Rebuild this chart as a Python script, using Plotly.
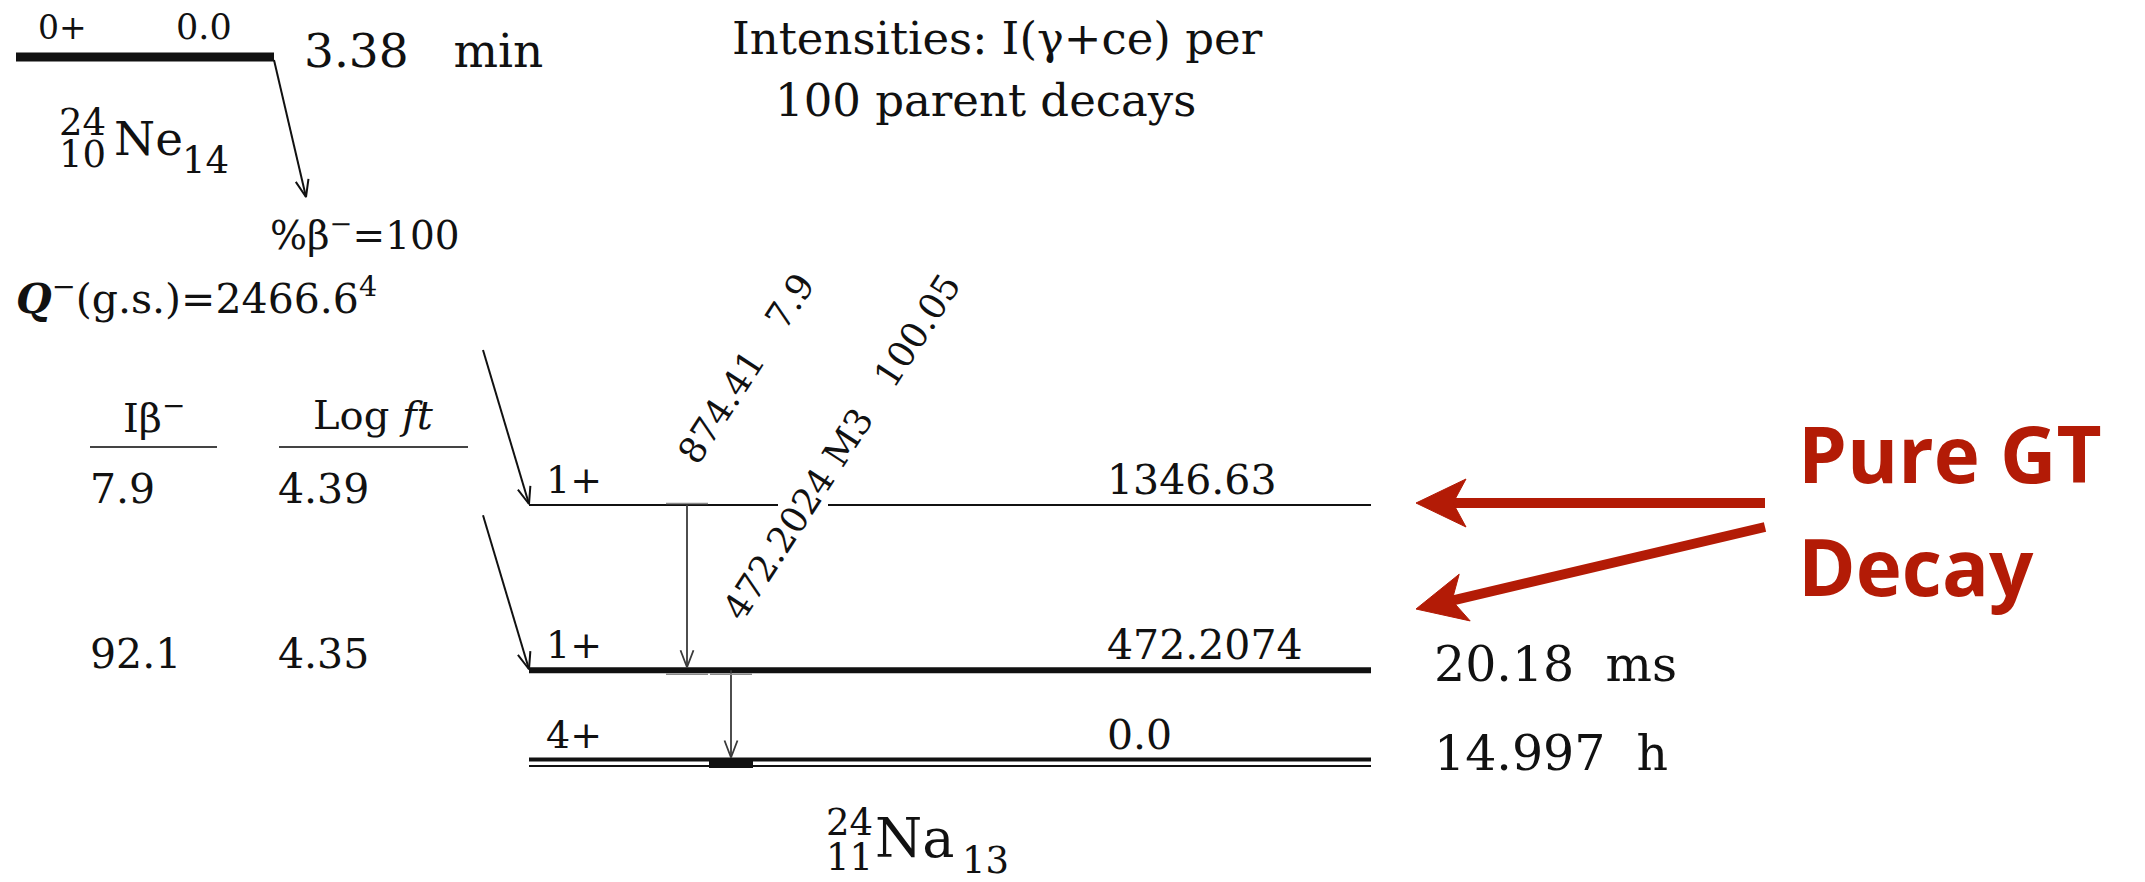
import math
import plotly.graph_objects as go

W, H = 2145, 882
SERIF = "DejaVu Serif"
INK = "#111111"
RED = "#B31B06"

# ---- parent nucleus: 24Ne ----
parent_symbol = "Ne"
parent_a, parent_z, parent_n = "24", "10", "14"
parent_jpi = "0+"
parent_level = "0.0"
parent_halflife = "3.38\u00a0\u00a0\u00a0min"
beta_branch = "100"
q_value = "2466.6"
q_unc = "4"

# ---- daughter nucleus: 24Na ----
daughter_symbol = "Na"
daughter_a, daughter_z, daughter_n = "24", "11", "13"

# ---- daughter levels (keV) ----
level_energy = [1346.63, 472.2074, 0.0]
level_text = ["1346.63", "472.2074", "0.0"]
level_jpi = ["1+", "1+", "4+"]
level_halflife = ["", "20.18\u00a0\u00a0ms", "14.997\u00a0\u00a0h"]

# ---- beta feeding ----
feed_level = [1346.63, 472.2074]
feed_ibeta = ["7.9", "92.1"]
feed_logft = ["4.39", "4.35"]

# ---- gamma transitions ----
gamma_label = ["874.41", "472.2024"]
gamma_mult = ["", "M3"]
gamma_intensity = ["7.9", "100.05"]
gamma_from = [1346.63, 472.2074]
gamma_to = [472.2074, 0.0]

# ---- drawing geometry ----
GROUND_PX = 759.5          # screen row of the 0 keV level
PX_PER_KEV = 0.189         # vertical energy scale
LEVEL_X0, LEVEL_X1 = 529, 1371
GAMMA_X = [687, 731]
LEVEL_WIDTH = {1346.63: 2, 472.2074: 6, 0.0: 4}
# where the slanted 472.2024 label cuts through the 1346.63 level
LEVEL_GAP = {1346.63: (778, 828)}


def to_e(py):
    return (GROUND_PX - py) / PX_PER_KEV


def to_px(e):
    return GROUND_PX - e * PX_PER_KEV


fig = go.Figure()


def seg(xs, es, color=INK, width=2):
    fig.add_trace(go.Scatter(x=xs, y=es, mode="lines", hoverinfo="skip",
                             line=dict(color=color, width=width)))


def arrow(x0, p0, x1, p1, color=INK, width=2, head=17, half=6.5):
    """Line with an open chevron head; p0/p1 are screen rows."""
    dx, dy = x1 - x0, p1 - p0
    L = math.hypot(dx, dy)
    ux, uy = dx / L, dy / L
    bx, by = x1 - head * ux, p1 - head * uy
    nx, ny = -uy, ux
    seg([x0, x1], [to_e(p0), to_e(p1)], color, width)
    seg([bx + half * nx, x1, bx - half * nx],
        [to_e(by + half * ny), to_e(p1), to_e(by - half * ny)], color, width)


def bold_arrow(x0, p0, x1, p1, color, width=10, head=50, half=24, notch=13):
    """Thick pointer with a barbed, filled head; p0/p1 are screen rows."""
    dx, dy = x1 - x0, p1 - p0
    L = math.hypot(dx, dy)
    ux, uy = dx / L, dy / L
    nx, ny = -uy, ux
    mx, my = x1 - (head - notch) * ux, p1 - (head - notch) * uy
    seg([x0, mx], [to_e(p0), to_e(my)], color, width)
    bx, by = x1 - head * ux, p1 - head * uy
    pts = [(x1, p1), (bx + half * nx, by + half * ny), (mx, my),
           (bx - half * nx, by - half * ny), (x1, p1)]
    fig.add_trace(go.Scatter(x=[p[0] for p in pts], y=[to_e(p[1]) for p in pts],
                             mode="lines", fill="toself", fillcolor=color,
                             hoverinfo="skip", line=dict(color=color, width=1)))


# parent level bar and its beta arrow
PARENT_PX = 57
seg([16, 274], [to_e(PARENT_PX)] * 2, INK, 9)
arrow(274, PARENT_PX + 3, 306, 197, INK, 2)

# daughter levels
for e in level_energy:
    if e in LEVEL_GAP:
        g0, g1 = LEVEL_GAP[e]
        seg([LEVEL_X0, g0, None, g1, LEVEL_X1], [e, e, None, e, e], INK, LEVEL_WIDTH[e])
    else:
        seg([LEVEL_X0, LEVEL_X1], [e, e], INK, LEVEL_WIDTH[e])
# second (thin) rule under the ground state
seg([LEVEL_X0, LEVEL_X1], [to_e(to_px(0.0) + 6.5)] * 2, INK, 2)

# beta feeding arrows
for e in feed_level:
    py = to_px(e)
    arrow(LEVEL_X0 - 46, py - 155, LEVEL_X0, py - 1, INK, 2)

# gamma transitions with their foot marks on the levels
for gx, ef, et in zip(GAMMA_X, gamma_from, gamma_to):
    top = to_px(ef)
    bot = to_px(et) - LEVEL_WIDTH[et] / 2
    arrow(gx, top, gx, bot, "#3a3a3a", 1.8)
    for e in (ef, et):
        if e == 0.0:
            seg([gx - 22, gx + 22], [to_e(to_px(e) + 3.5)] * 2, INK, 10)
        elif e == max(level_energy):
            seg([gx - 21, gx + 21], [to_e(to_px(e) - 1.5)] * 2, "#8a8a8a", 1.5)
        else:
            seg([gx - 21, gx + 21], [to_e(to_px(e) + 4)] * 2, "#8a8a8a", 1.5)

# table header rules
seg([90, 217], [to_e(447)] * 2, "#444444", 2)
seg([279, 468], [to_e(447)] * 2, "#444444", 2)

# pointers to the two allowed Gamow-Teller branches
bold_arrow(1765, 503, 1416, 503, RED)
bold_arrow(1765, 527, 1416, 609, RED)

ann = []


def text(s, x, py, size, xanchor="left", color=INK, family=SERIF, **kw):
    ann.append(dict(text=s, x=x, y=to_e(py), xref="x", yref="y", showarrow=False,
                    xanchor=xanchor, yanchor="middle",
                    font=dict(family=family, size=size, color=color), **kw))


# parent labels
text(parent_jpi, 36, 27, 33)
text(parent_level, 174, 27, 35)
text(parent_halflife, 302, 50, 47)
text(parent_a, 82, 122, 37, "center")
text(parent_z, 82, 154, 37, "center")
text(parent_symbol, 112, 138, 47)
text(parent_n, 180, 160, 37)
text("%β<sup>−</sup>=" + beta_branch, 268, 233, 39)
text("<b><i>Q</i></b><sup>−</sup>(g.s.)=" + q_value + "<sup>" + q_unc + "</sup>",
     14, 296, 41)

# intensity note
text("Intensities: I(γ+ce) per", 997, 38, 45, "center")
text("100 parent decays", 985, 100, 45, "center")

# table header
text("Iβ<sup>−</sup>", 154, 415, 40, "center")
text("Log <i>ft</i>", 373, 415, 40, "center")
for e, ib, lf in zip(feed_level, feed_ibeta, feed_logft):
    py = to_px(e) - 16
    text(ib, 88, py, 41)
    text(lf, 276, py, 41)

# level labels
for e, lt, jp, t12 in zip(level_energy, level_text, level_jpi, level_halflife):
    py = to_px(e)
    text(jp, 544, py - 25, 38)
    text(lt, 1105, py - 25, 41)
    if t12:
        text(t12, 1432, py - 6, 49)

# gamma labels, drawn along the slanted direction
GAMMA_LABEL_XY = [(746, 368), (841, 447)]
for (lx, ly), g, m, i in zip(GAMMA_LABEL_XY, gamma_label, gamma_mult, gamma_intensity):
    s = g + ("\u00a0" + m if m else "") + "\u00a0\u00a0\u00a0" + i
    text(s, lx, ly, 36, "center", textangle=-57)

# daughter label
text(daughter_a, 849, 822, 37, "center")
text(daughter_z, 849, 857, 37, "center")
text(daughter_symbol, 873, 838, 54)
text(daughter_n, 960, 860, 37)

# annotation for the highlighted branches
text("<b>Pure GT</b>", 1796, 453, 78, color=RED, family="Open Sans")
text("<b>Decay</b>", 1796, 566, 78, color=RED, family="Open Sans")

fig.update_layout(
    width=W, height=H, margin=dict(l=0, r=0, t=0, b=0),
    paper_bgcolor="white", plot_bgcolor="white", showlegend=False,
    xaxis=dict(range=[0, W], visible=False, fixedrange=True),
    yaxis=dict(range=[to_e(H), to_e(0)], visible=False, fixedrange=True),
    annotations=ann,
)

fig.write_html("out.html")
